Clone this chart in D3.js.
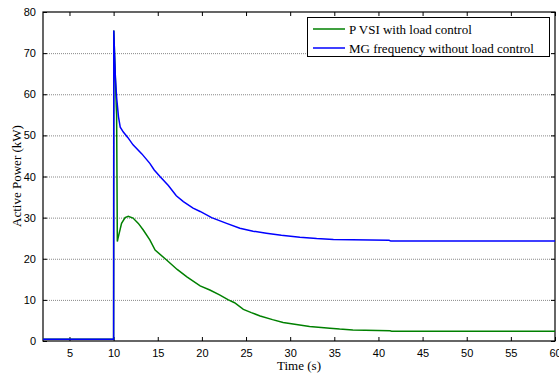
<!DOCTYPE html>
<html><head><meta charset="utf-8">
<script src="https://cdn.jsdelivr.net/npm/d3@7"></script>
<style>body{margin:0;background:#fff}svg{display:block}</style>
</head><body>
<svg id="c" width="559" height="373"></svg>
<script>
const xTicks = [5,10,15,20,25,30,35,40,45,50,55,60];
const yTicks = [0,10,20,30,40,50,60,70,80];
const seriesNames = ["P VSI with load control","MG frequency without load control"];
const seriesColors = ["#008000","#0000ff"];
const greenT = [2,10,10.02,10.1,10.2,10.3,10.34,10.42,10.5,10.9,11.3,11.66,12.2,12.8,13.36,14.1,14.7,16.0,17.2,18.3,19.8,20.9,22.0,23.0,23.7,24.7,25.6,26.6,28,29.2,30.7,32.2,34.5,35.6,37.1,41.3,41.5,60];
const greenP = [0.4,0.4,75.5,70,64,57,55,24.2,25,28.6,30,30.3,29.9,28.6,27,24.6,22.1,19.7,17.4,15.6,13.4,12.4,11.2,10.0,9.3,7.7,6.9,6.1,5.2,4.5,4.0,3.5,3.1,2.9,2.7,2.5,2.4,2.4];
const blueT = [2,10,10.02,10.1,10.2,10.35,10.55,10.75,11.1,11.6,12.2,13.2,14.1,14.6,15.25,16.2,17.1,17.9,19.0,19.8,21.1,22.8,24.3,25.8,27.3,29,31.1,33,34.9,41.2,41.4,60];
const blueP = [0.4,0.4,75.5,70,64,59,54.5,52,50.8,49.5,47.7,45.5,43.2,41.6,40,37.8,35.3,33.9,32.3,31.5,30.0,28.6,27.4,26.7,26.2,25.7,25.2,24.9,24.7,24.5,24.3,24.3];

const svg = d3.select("#c");
const L=43,R=555,T=12,B=341;
const x = d3.scaleLinear().domain([2,60]).range([L,R]);
const y = d3.scaleLinear().domain([0,80]).range([B,T]);

// grid
svg.append("g").selectAll("line").data(yTicks.filter(v=>v>0&&v<80)).join("line")
  .attr("x1",L).attr("x2",R).attr("y1",d=>y(d)+0.5).attr("y2",d=>y(d)+0.5)
  .attr("stroke","#888").attr("stroke-width",1).attr("stroke-dasharray","1,1");

const tk=4;
const ax = (g)=>g.attr("font-family","'Liberation Sans',Arial,sans-serif").attr("font-size",11);
svg.append("g").attr("transform",`translate(0,${B})`).call(d3.axisBottom(x).tickValues(xTicks).tickSizeInner(-tk).tickSizeOuter(0).tickPadding(8)).call(ax)
  .call(g=>{g.select(".domain").remove();g.selectAll("text").attr("fill","#000");});
svg.append("g").attr("transform",`translate(0,${T})`).call(d3.axisTop(x).tickValues(xTicks).tickSizeInner(-tk).tickSizeOuter(0).tickFormat(""))
  .call(g=>g.select(".domain").remove());
svg.append("g").attr("transform",`translate(${L},0)`).call(d3.axisLeft(y).tickValues(yTicks).tickSizeInner(-tk).tickSizeOuter(0).tickPadding(7)).call(ax)
  .call(g=>{g.select(".domain").remove();g.selectAll("text").attr("fill","#000");});
svg.append("g").attr("transform",`translate(${R},0)`).call(d3.axisRight(y).tickValues(yTicks).tickSizeInner(-tk).tickSizeOuter(0).tickFormat(""))
  .call(g=>g.select(".domain").remove());

svg.append("rect").attr("x",L).attr("y",T).attr("width",R-L).attr("height",B-T)
  .attr("fill","none").attr("stroke","#000").attr("stroke-width",1.2);

const line = d3.line().x(d=>x(d[0])).y(d=>y(d[1]));
const gData = greenT.map((t,i)=>[t,greenP[i]]);
const bData = blueT.map((t,i)=>[t,blueP[i]]);
svg.append("path").datum(gData).attr("d",line).attr("fill","none").attr("stroke",seriesColors[0]).attr("stroke-width",1.5);
svg.append("path").datum(bData).attr("d",line).attr("fill","none").attr("stroke",seriesColors[1]).attr("stroke-width",1.5);

// labels
svg.append("text").attr("x",(L+R)/2+0).attr("y",370).attr("text-anchor","middle")
  .attr("font-family","'Liberation Serif','Times New Roman',serif").attr("font-size",13).text("Time (s)");
svg.append("text").attr("transform","translate(21,176) rotate(-90)").attr("text-anchor","middle")
  .attr("font-family","'Liberation Serif','Times New Roman',serif").attr("font-size",13).text("Active Power (kW)");

// legend
const lg = svg.append("g");
lg.append("rect").attr("x",307.5).attr("y",17.5).attr("width",242).attr("height",39).attr("fill","#fff").attr("stroke","#000").attr("stroke-width",1);
seriesNames.forEach((n,i)=>{
  const yy = 29 + i*19;
  lg.append("line").attr("x1",313).attr("x2",345).attr("y1",yy).attr("y2",yy).attr("stroke",seriesColors[i]).attr("stroke-width",1.5);
  lg.append("text").attr("x",349).attr("y",yy+4.5).attr("font-family","'Liberation Serif','Times New Roman',serif").attr("font-size",13).text(n);
});
</script>
</body></html>
